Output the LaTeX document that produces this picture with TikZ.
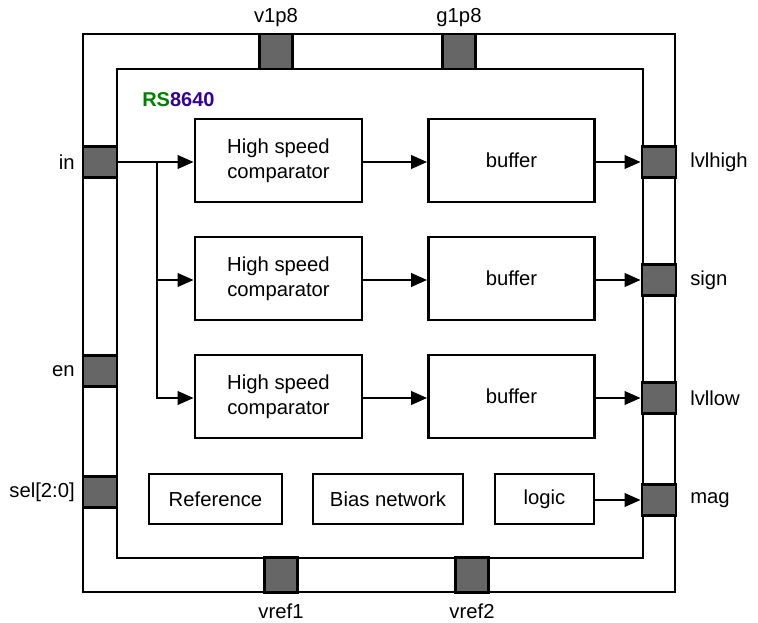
\documentclass[tikz,border=0pt]{standalone}
\usepackage{fontspec}
\setmainfont{Liberation Sans}
\usetikzlibrary{arrows.meta}
\definecolor{rsgreen}{RGB}{0,128,0}
\definecolor{rsblue}{RGB}{51,0,153}
\definecolor{padgray}{RGB}{102,102,102}
\begin{document}
\begin{tikzpicture}[x=0.75pt,y=-0.75pt,
  every node/.style={font=\fontsize{15.2}{18.75}\selectfont},
  frame/.style={line width=2pt},
  blk/.style={draw,line width=2pt,fill=white,inner sep=0pt,align=center,font=\fontsize{15.2}{18.75}\selectfont},
  hpad/.style={draw,line width=2pt,fill=padgray,inner sep=0pt,minimum width=25.5pt,minimum height=23.25pt},
  vpad/.style={draw,line width=2pt,fill=padgray,inner sep=0pt,minimum width=24.75pt,minimum height=26.25pt},
  conn/.style={line width=2pt},
  arr/.style={line width=2pt,-{Triangle[length=12pt,width=10pt]}},
  lbl/.style={inner sep=0pt}]
\useasboundingbox (0,0) rectangle (758,623);
\draw[frame] (83,34) rectangle (675,592);
\draw[frame,fill=white] (117,69) rectangle (643,558);
% pads
\node[hpad] (pin) at (100,162) {};
\node[hpad] (pen) at (100,371) {};
\node[hpad] (psel) at (100,492) {};
\node[vpad] (pv) at (276,51.5) {};
\node[vpad] (pg) at (459,51.5) {};
\node[vpad] (pr1) at (281,575) {};
\node[vpad] (pr2) at (472,575) {};
\node[hpad] (phigh) at (659,162) {};
\node[hpad] (psign) at (659,280) {};
\node[hpad] (plow) at (659,398) {};
\node[hpad] (pmag) at (659,500) {};
% pad labels
\node[lbl,anchor=east] (lin) at (75,162) {in};
\node[lbl,anchor=east] (len) at (75,371) {en};
\node[lbl,anchor=east] (lsel) at (75,492) {sel[2:0]};
\node[lbl] (lv) at (276,18) {v1p8};
\node[lbl] (lg) at (459,18) {g1p8};
\node[lbl] (lr1) at (281,611) {vref1};
\node[lbl] (lr2) at (472,611) {vref2};
\node[lbl,anchor=west] (lhigh) at (690,162) {lvlhigh};
\node[lbl,anchor=west] (lsign) at (690,280) {sign};
\node[lbl,anchor=west] (llow) at (690,398) {lvllow};
\node[lbl,anchor=west] (lmag) at (690,500) {mag};
% title
\node[lbl,anchor=west,font=\bfseries\fontsize{15}{18}\selectfont] (title) at (142,100) {\textcolor{rsgreen}{RS}\textcolor{rsblue}{8640}};
% blocks
\node[blk,minimum width=125.25pt,minimum height=62.25pt] (c1) at (278.5,160.5) {High speed\\comparator};
\node[blk,minimum width=125.25pt,minimum height=62.25pt] (c2) at (278.5,278.5) {High speed\\comparator};
\node[blk,minimum width=125.25pt,minimum height=62.25pt] (c3) at (278.5,396.5) {High speed\\comparator};
\node[blk,minimum width=124.5pt,minimum height=62.25pt] (b1) at (511.5,160.5) {buffer};
\node[blk,minimum width=124.5pt,minimum height=62.25pt] (b2) at (511.5,278.5) {buffer};
\node[blk,minimum width=124.5pt,minimum height=62.25pt] (b3) at (511.5,396.5) {buffer};
\node[blk,minimum width=99.75pt,minimum height=37.5pt] (ref) at (215.5,499) {Reference};
\node[blk,minimum width=112.5pt,minimum height=37.5pt] (bias) at (388,499) {Bias network};
\node[blk,minimum width=74.25pt,minimum height=37.5pt] (logic) at (544.5,499) {logic};
% connectors
\coordinate (j) at (157,162);
\draw[arr] (pin.east) -- (pin.east -| c1.west);
\draw[conn] (j) -- (157,398);
\draw[arr] (j) |- (c2.west |- psign);
\draw[arr] (j) |- (c3.west |- plow);
\draw[arr] (c1.east |- phigh) -- (b1.west |- phigh);
\draw[arr] (c2.east |- psign) -- (b2.west |- psign);
\draw[arr] (c3.east |- plow) -- (b3.west |- plow);
\draw[arr] (b1.east |- phigh) -- (phigh.west);
\draw[arr] (b2.east |- psign) -- (psign.west);
\draw[arr] (b3.east |- plow) -- (plow.west);
\draw[arr] (logic.east |- pmag) -- (pmag.west);
\end{tikzpicture}
\end{document}
